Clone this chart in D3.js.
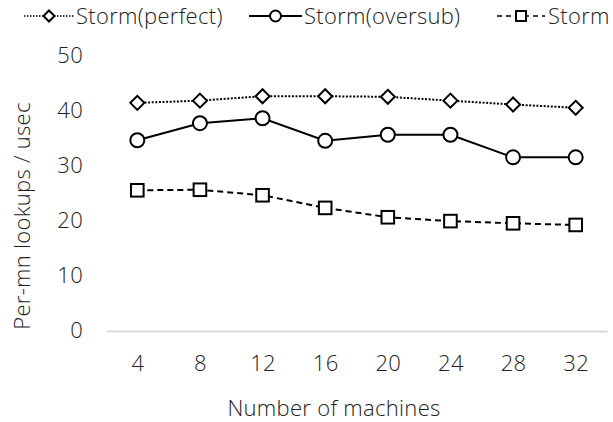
<!DOCTYPE html>
<html><head><meta charset="utf-8">
<script src="https://cdn.jsdelivr.net/npm/d3@7"></script>
<style>
body{margin:0;background:#fff;}
text{font-family:"Open Sans",Lato,sans-serif;fill:#222;letter-spacing:0.3px;}
</style></head>
<body>
<svg id="chart" width="613" height="422"></svg>
<script>
const categories = [4, 8, 12, 16, 20, 24, 28, 32];
const stormPerfect = [41.3, 41.7, 42.5, 42.5, 42.4, 41.7, 41.0, 40.4];
const stormOversub = [34.5, 37.6, 38.5, 34.4, 35.5, 35.5, 31.4, 31.4];
const storm = [25.4, 25.5, 24.5, 22.2, 20.5, 19.8, 19.4, 19.1];
const yTicks = [0, 10, 20, 30, 40, 50];
const seriesNames = ["Storm(perfect)", "Storm(oversub)", "Storm"];

const FS = "22px", FW = 300, TC = "#222";
const svg = d3.select("#chart");
const margin = {left:106, right:6, top:55, bottom:91};
const W = 613, H = 422;
const x = d3.scalePoint().domain(categories).range([margin.left, W - margin.right]).padding(0.5);
const y = d3.scaleLinear().domain([0, 50]).range([H - margin.bottom - 1, margin.top]);

const xAxis = svg.append("g").attr("transform", `translate(0,${y(0)+1})`)
  .call(d3.axisBottom(x).tickSize(0).tickPadding(24));
xAxis.select(".domain").attr("stroke", "#d9d9d9").attr("stroke-width", 2);
xAxis.selectAll("text").style("font-size", FS).style("font-weight", FW).attr("fill", TC);

const yAxis = svg.append("g").attr("transform", `translate(${margin.left},0)`)
  .call(d3.axisLeft(y).tickValues(yTicks).tickSize(0).tickPadding(23));
yAxis.select(".domain").remove();
yAxis.selectAll("text").style("font-size", FS).style("font-weight", FW).attr("fill", TC);

svg.append("text").attr("x", 334).attr("y", 416).attr("text-anchor", "middle")
  .style("font-size", FS).style("font-weight", FW).text("Number of machines");
svg.append("text").attr("transform", "translate(30,216) rotate(-90)").attr("text-anchor", "middle")
  .style("font-size", FS).style("font-weight", FW).text("Per-mn lookups / usec");

const series = [
  {name: seriesNames[0], values: stormPerfect, dash: "2,1.6", marker: "diamond"},
  {name: seriesNames[1], values: stormOversub, dash: null, marker: "circle"},
  {name: seriesNames[2], values: storm, dash: "6,4", marker: "square"}
];

function drawMarker(g, type, cx, cy, s) {
  if (type === "diamond") {
    g.append("path").attr("d", `M${cx},${cy-s}L${cx+s},${cy}L${cx},${cy+s}L${cx-s},${cy}Z`)
      .attr("fill", "#fff").attr("stroke", "#000").attr("stroke-width", 2);
  } else if (type === "circle") {
    g.append("circle").attr("cx", cx).attr("cy", cy).attr("r", s)
      .attr("fill", "#fff").attr("stroke", "#000").attr("stroke-width", 2);
  } else {
    g.append("rect").attr("x", cx - s).attr("y", cy - s).attr("width", 2*s).attr("height", 2*s)
      .attr("fill", "#fff").attr("stroke", "#000").attr("stroke-width", 2);
  }
}

const line = d3.line().x((d, i) => x(categories[i])).y(d => y(d));
series.forEach(s => {
  svg.append("path").datum(s.values).attr("d", line)
    .attr("fill", "none").attr("stroke", "#000").attr("stroke-width", 2)
    .attr("stroke-dasharray", s.dash);
  const g = svg.append("g");
  const size = s.marker === "square" ? 6.3 : 7;
  s.values.forEach((v, i) => drawMarker(g, s.marker, x(categories[i]), y(v), size));
});

const legendItems = [
  {x0: 24, x1: 74, tx: 76},
  {x0: 249, x1: 302, tx: 304},
  {x0: 497, x1: 545, tx: 548}
];
const ly = 16;
series.forEach((s, i) => {
  const li = legendItems[i];
  const g = svg.append("g");
  g.append("line").attr("x1", li.x0).attr("x2", li.x1).attr("y1", ly).attr("y2", ly)
    .attr("stroke", "#000").attr("stroke-width", s.dash ? 1.5 : 2)
    .attr("stroke-dasharray", s.dash ? (s.marker === "diamond" ? "1.5,1.5" : "5,4") : null);
  drawMarker(g, s.marker, (li.x0 + li.x1) / 2, ly, s.marker === "square" ? 5 : 5.5);
  g.append("text").attr("x", li.tx).attr("y", ly + 8).style("font-size", FS).style("font-weight", FW).text(s.name);
});
</script>
</body></html>
